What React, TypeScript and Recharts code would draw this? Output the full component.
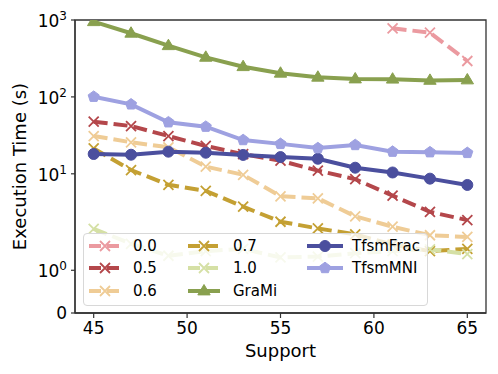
import React from 'react'
import { LineChart, Line, XAxis, YAxis, Legend, ReferenceArea } from 'recharts'

// ─── Data ────────────────────────────────────────────────────────────────────

const support = [45, 47, 49, 51, 53, 55, 57, 59, 61, 63, 65]

const th00 = [null, null, null, null, null, null, null, null, 780, 684, 293]
const th05 = [47.6, 41.8, 31, 23, 18, 14.8, 11, 8.5, 5.2, 3.2, 2.5]
const th06 = [31, 25.7, 22.1, 12.4, 9.7, 5.1, 4.8, 2.8, 2.05, 1.82, 1.78]
const th07 = [21.4, 11.2, 7.2, 6.0, 3.74, 2.38, 1.98, 1.84, 1.6, 1.45, 1.5]
const th10 = [1.97, 1.62, 1.34, 1.45, 1.5, 1.3, 1.32, 1.4, 1.45, 1.49, 1.38]
const grami = [950, 672, 463, 327, 247, 203, 180, 171, 170, 164, 166]
const tfsmFrac = [18.1, 17.7, 19.4, 18.8, 17.6, 16.5, 15.7, 12.0, 10.4, 8.65, 7.16]
const tfsmMni = [100.6, 80, 46.8, 41, 27.5, 24.5, 21.6, 23.7, 19.4, 19.1, 18.7]

const xTicks = [45, 50, 55, 60, 65]
const yTicks = [0, 1, 10, 100, 1000]

type Marker = 'x' | 'circle' | 'triangle' | 'pentagon'
type Series = { key: string; name: string; values: (number | null)[]; color: string; dashed: boolean; marker: Marker }

const SERIES: Series[] = [
  { key: 's00', name: '0.0', values: th00, color: '#eb9aa0', dashed: true, marker: 'x' },
  { key: 's05', name: '0.5', values: th05, color: '#b4474b', dashed: true, marker: 'x' },
  { key: 's06', name: '0.6', values: th06, color: '#efcc96', dashed: true, marker: 'x' },
  { key: 's07', name: '0.7', values: th07, color: '#c4a033', dashed: true, marker: 'x' },
  { key: 's10', name: '1.0', values: th10, color: '#d5e0a5', dashed: true, marker: 'x' },
  { key: 'grami', name: 'GraMi', values: grami, color: '#89a04f', dashed: false, marker: 'triangle' },
  { key: 'frac', name: 'TfsmFrac', values: tfsmFrac, color: '#4b4f9e', dashed: false, marker: 'circle' },
  { key: 'mni', name: 'TfsmMNI', values: tfsmMni, color: '#9ea1e1', dashed: false, marker: 'pentagon' },
]

const rows = support.map((s, i) => {
  const row: Record<string, number | null> = { support: s }
  SERIES.forEach(sr => { row[sr.key] = sr.values[i] })
  return row
})

const FONT = '"DejaVu Sans", sans-serif'

// ─── symlog scale (linthresh 2, linscale 1), matplotlib style ───────────────

const LINTHRESH = 2
const LINSCALE = 1 / (1 - 1 / 10)

function fwd(v: number) {
  const a = Math.abs(v)
  if (a <= LINTHRESH) return v * LINSCALE
  return Math.sign(v) * LINTHRESH * (LINSCALE + Math.log10(a / LINTHRESH))
}

function inv(t: number) {
  const a = Math.abs(t)
  if (a <= LINTHRESH * LINSCALE) return t / LINSCALE
  return Math.sign(t) * LINTHRESH * Math.pow(10, a / LINTHRESH - LINSCALE)
}

function symlogScale(): any {
  let dom = [0, 1]
  let rng = [0, 1]
  const scale: any = (v: number) => {
    if (v == null || !Number.isFinite(Number(v))) return undefined
    const t0 = fwd(dom[0])
    const t1 = fwd(dom[dom.length - 1])
    return rng[0] + ((fwd(Number(v)) - t0) / (t1 - t0)) * (rng[rng.length - 1] - rng[0])
  }
  scale.domain = (d?: number[]) => {
    if (d === undefined) return dom.slice()
    dom = d.map(Number)
    return scale
  }
  scale.range = (r?: number[]) => {
    if (r === undefined) return rng.slice()
    rng = r.map(Number)
    return scale
  }
  scale.invert = (px: number) => {
    const t0 = fwd(dom[0])
    const t1 = fwd(dom[dom.length - 1])
    const f = (px - rng[0]) / (rng[rng.length - 1] - rng[0])
    return inv(t0 + f * (t1 - t0))
  }
  scale.copy = () => symlogScale().domain(dom).range(rng)
  scale.ticks = () => yTicks.slice()
  scale.tickFormat = () => (v: number) => String(v)
  return scale
}

// ─── markers ─────────────────────────────────────────────────────────────────

function MarkerShape({ type, cx, cy, color }: { type: Marker; cx: number; cy: number; color: string }) {
  if (type === 'x') {
    const r = 5
    return (
      <path
        d={`M${cx - r},${cy - r}L${cx + r},${cy + r}M${cx - r},${cy + r}L${cx + r},${cy - r}`}
        stroke={color}
        strokeWidth={1.8}
        fill="none"
      />
    )
  }
  if (type === 'circle') return <circle cx={cx} cy={cy} r={5.5} fill={color} stroke={color} strokeWidth={1} />
  if (type === 'triangle') {
    const r = 6.5
    return (
      <polygon
        points={`${cx},${cy - r} ${cx + r * 0.95},${cy + r * 0.6} ${cx - r * 0.95},${cy + r * 0.6}`}
        fill={color}
        stroke={color}
        strokeWidth={1}
      />
    )
  }
  const r = 5.8
  const pts = [0, 1, 2, 3, 4]
    .map(k => {
      const a = -Math.PI / 2 + (k * 2 * Math.PI) / 5
      return `${cx + r * Math.cos(a)},${cy + r * Math.sin(a)}`
    })
    .join(' ')
  return <polygon points={pts} fill={color} stroke={color} strokeWidth={1} />
}

function makeDot(s: Series) {
  return (props: any) => {
    const { cx, cy, index } = props
    if (cx == null || cy == null || !Number.isFinite(cy)) return <g key={`${s.key}-${index}`} />
    return (
      <g key={`${s.key}-${index}`}>
        <MarkerShape type={s.marker} cx={cx} cy={cy} color={s.color} />
      </g>
    )
  }
}

// ─── ticks and labels ────────────────────────────────────────────────────────

function YTick({ x, y, payload }: any) {
  const v = payload.value
  if (v === 0) {
    return (
      <text x={x} y={y + 6} textAnchor="end" fontSize={17} fill="#000" fontFamily={FONT}>
        0
      </text>
    )
  }
  const exp = Math.round(Math.log10(v))
  return (
    <text x={x} y={y + 7} textAnchor="end" fontSize={17} fill="#000" fontFamily={FONT}>
      <tspan>10</tspan>
      <tspan dy={-7} fontSize={12}>{exp}</tspan>
    </text>
  )
}

// ─── legend ──────────────────────────────────────────────────────────────────

function LegendBox() {
  const iconX = [6, 105, 224]
  const textX = [50, 150, 269]
  const rowY = [12.5, 35, 57.5]
  return (
    <div
      style={{
        position: 'relative',
        width: 345,
        height: 73,
        boxSizing: 'border-box',
        background: 'rgba(255,255,255,0.8)',
        border: '1px solid #d8d8d8',
        borderRadius: 4,
        fontFamily: FONT,
        fontSize: 15,
        color: '#000',
      }}
    >
      {SERIES.map((s, i) => {
        const col = Math.floor(i / 3)
        const row = i % 3
        const w = col === 2 ? 36 : 32
        return (
          <React.Fragment key={s.key}>
            <svg
              width={w}
              height={14}
              style={{ position: 'absolute', left: iconX[col] - 1, top: rowY[row] - 8 }}
            >
              <line
                x1={0}
                y1={7}
                x2={w}
                y2={7}
                stroke={s.color}
                strokeWidth={4}
                strokeDasharray={s.dashed ? '12 6' : undefined}
              />
              <MarkerShape type={s.marker} cx={w / 2} cy={7} color={s.color} />
            </svg>
            <span
              style={{
                position: 'absolute',
                left: textX[col] - 1,
                top: rowY[row] - 10,
                lineHeight: '18px',
                whiteSpace: 'nowrap',
              }}
            >
              {s.name}
            </span>
          </React.Fragment>
        )
      })}
    </div>
  )
}

// ─── chart ───────────────────────────────────────────────────────────────────

export default function App() {
  return (
    <div style={{ width: 498, height: 374, fontFamily: FONT, background: '#fff' }}>
      <style>{'body{margin:0}'}</style>
      <LineChart width={498} height={374} data={rows} margin={{ top: 20, right: 12, left: 0, bottom: 0 }}>
        <XAxis
          dataKey="support"
          type="number"
          domain={[44, 66]}
          ticks={xTicks}
          allowDataOverflow
          height={61}
          tickSize={5}
          tickMargin={4}
          tick={{ fontSize: 17, fill: '#000', fontFamily: FONT }}
          axisLine={{ stroke: '#333', strokeWidth: 1.3 }}
          tickLine={{ stroke: '#333', strokeWidth: 1.2 }}
          label={{ value: 'Support', position: 'insideBottom', offset: 17, fontSize: 18, fill: '#000', fontFamily: FONT }}
        />
        <YAxis
          type="number"
          scale={symlogScale()}
          domain={[0, 1000]}
          ticks={yTicks}
          allowDataOverflow
          width={75}
          tickSize={4}
          tickMargin={4}
          tick={<YTick />}
          axisLine={{ stroke: '#333', strokeWidth: 1.3 }}
          tickLine={{ stroke: '#333', strokeWidth: 1.2 }}
          label={{
            content: () => (
              <text
                x={26}
                y={166.5}
                transform="rotate(-90 26 166.5)"
                textAnchor="middle"
                fontSize={18}
                fill="#000"
                fontFamily={FONT}
              >
                Execution Time (s)
              </text>
            ),
          }}
        />
        <ReferenceArea
          x1={44}
          x2={66}
          y1={0}
          y2={1000}
          fill="none"
          fillOpacity={0}
          stroke="#333"
          strokeWidth={1.3}
          ifOverflow="visible"
        />
        {SERIES.map(s => (
          <Line
            key={s.key}
            dataKey={s.key}
            name={s.name}
            type="linear"
            stroke={s.color}
            strokeWidth={4}
            strokeDasharray={s.dashed ? '14 6' : undefined}
            dot={makeDot(s)}
            activeDot={false}
            isAnimationActive={false}
            connectNulls={false}
          />
        ))}
        <Legend
          layout="vertical"
          align="center"
          verticalAlign="middle"
          content={<LegendBox />}
          wrapperStyle={{ left: 83, top: 233, width: 345, height: 73 }}
        />
      </LineChart>
    </div>
  )
}
